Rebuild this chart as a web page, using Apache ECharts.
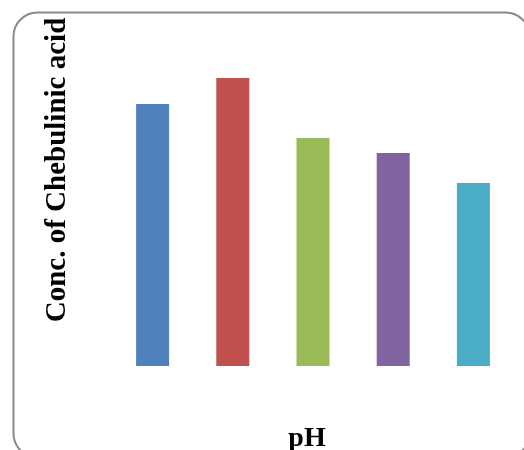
<!DOCTYPE html>
<html>
<head>
<meta charset="utf-8">
<script src="https://cdn.jsdelivr.net/npm/echarts@6/dist/echarts.min.js"></script>
<style>
  html, body { margin: 0; padding: 0; background: #fff; }
  #chart { width: 524px; height: 450px; }
</style>
</head>
<body>
<div id="chart"></div>
<script>
// pH levels (not labelled on the axis) and measured concentration
const categories = ['pH 1', 'pH 2', 'pH 3', 'pH 4', 'pH 5'];
const concValues = [262, 288, 228, 213, 183];
const barColors = ['#4F81BD', '#C0504D', '#9BBB59', '#8064A2', '#4BACC6'];

const chart = echarts.init(document.getElementById('chart'), null, { renderer: 'canvas' });

chart.setOption({
  animation: false,
  backgroundColor: '#ffffff',
  graphic: [
    {
      type: 'rect',
      left: 11, top: 10,
      shape: { width: 516, height: 445, r: 24 },
      style: { fill: 'none', stroke: '#8a8a8a', lineWidth: 2 },
      silent: true
    },
    {
      type: 'text',
      rotation: Math.PI / 2,
      x: 58, y: 170,
      style: {
        text: 'Conc. of Chebulinic acid',
        font: 'bold 29px "Liberation Serif", "Times New Roman", serif',
        fill: '#000',
        align: 'center',
        verticalAlign: 'middle'
      }
    },
    {
      type: 'text',
      x: 307, y: 439,
      style: {
        text: 'pH',
        font: 'bold 28px "Liberation Serif", "Times New Roman", serif',
        fill: '#000',
        align: 'center',
        verticalAlign: 'middle'
      }
    }
  ],
  grid: { left: 112.5, right: 10.5, top: 66, bottom: 84 },
  xAxis: {
    type: 'category',
    data: categories,
    axisLine: { show: false },
    axisTick: { show: false },
    axisLabel: { show: false }
  },
  yAxis: {
    type: 'value',
    min: 0, max: 300,
    axisLine: { show: false },
    axisTick: { show: false },
    axisLabel: { show: false },
    splitLine: { show: false }
  },
  series: [{
    type: 'bar',
    data: concValues.map((v, i) => ({ value: v, itemStyle: { color: barColors[i] } })),
    barWidth: 33
  }]
});
</script>
</body>
</html>
